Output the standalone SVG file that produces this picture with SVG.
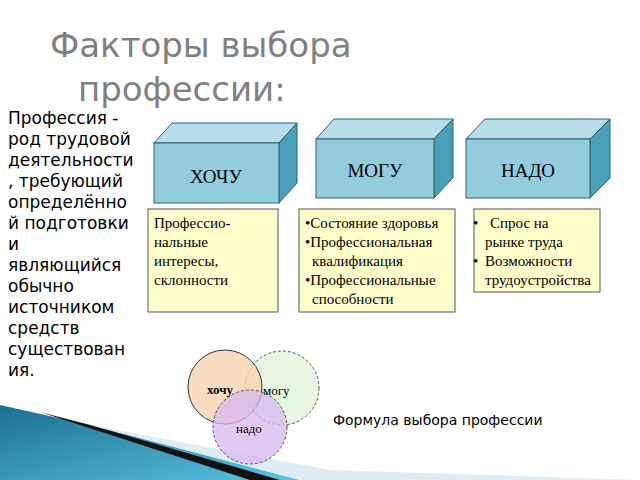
<svg xmlns="http://www.w3.org/2000/svg" width="640" height="480" viewBox="0 0 640 480">
<defs>
<style>
.t{font-family:"DejaVu Sans",sans-serif;fill:#808080;font-size:34px}
.l{font-family:"DejaVu Sans",sans-serif;fill:#000;font-size:17px}
.f{fill:#93cddd;stroke:#2a6070;stroke-width:1}
.tp{fill:#b7dee8;stroke:#2a6070;stroke-width:1}
.sd{fill:#4aa0b8;stroke:#2a6070;stroke-width:1}
.bt{font-family:"Liberation Serif",serif;font-size:19px;fill:#000}
.y{fill:#ffffcc;stroke:#555;stroke-width:1}
.s{font-family:"Liberation Serif",serif;font-size:15px;fill:#000}
.c{stroke:#555;stroke-dasharray:3 2;stroke-width:1}
.ct{font-family:"Liberation Serif",serif;font-size:13px;fill:#000}
.fm{font-family:"DejaVu Sans",sans-serif;fill:#000;font-size:14px}
</style>
<linearGradient id="g" x1="0" y1="0" x2="1" y2="1"><stop offset="0" stop-color="#1a6f8f"/><stop offset="1" stop-color="#5bc3e0"/></linearGradient>
</defs>
<rect width="640" height="480" fill="#fff"/>
<polygon points="0,405 90,425 300,480 0,480" fill="url(#g)"/>
<polygon points="40,412 90,425 280,480 250,480" fill="#111"/>
<polygon points="90,425 330,470 640,480 300,480" fill="#cfe6ee" opacity="0.7"/>
<text class="t" x="50" y="57">Факторы выбора</text>
<text class="t" x="78" y="101">профессии:</text>
<g class="l">
<text x="8" y="124">Профессия -</text>
<text x="8" y="145">род трудовой</text>
<text x="8" y="166">деятельности</text>
<text x="8" y="187">, требующий</text>
<text x="8" y="208">определённо</text>
<text x="8" y="229">й подготовки</text>
<text x="8" y="250">и</text>
<text x="8" y="271">являющийся</text>
<text x="8" y="292">обычно</text>
<text x="8" y="313">источником</text>
<text x="8" y="334">средств</text>
<text x="8" y="355">существован</text>
<text x="8" y="376">ия.</text>
</g>
<g id="hochu">
<polygon class="tp" points="154,143 172,123 297,123 279,143"/>
<polygon class="sd" points="279,143 297,123 297,183 279,203"/>
<rect class="f" x="154" y="143" width="125" height="60"/>
<text class="bt" x="216" y="183" text-anchor="middle">ХОЧУ</text>
</g>
<g id="mogu">
<polygon class="tp" points="316,139 334,119 453,119 434,139"/>
<polygon class="sd" points="434,139 453,119 453,178 434,198"/>
<rect class="f" x="316" y="139" width="118" height="59"/>
<text class="bt" x="375" y="177" text-anchor="middle">МОГУ</text>
</g>
<g id="nado">
<polygon class="tp" points="466,139 485,119 610,119 590,139"/>
<polygon class="sd" points="590,139 610,119 610,178 590,198"/>
<rect class="f" x="466" y="139" width="124" height="59"/>
<text class="bt" x="528" y="177" text-anchor="middle">НАДО</text>
</g>
<g id="box1">
<rect class="y" x="148" y="209" width="130" height="103"/>
<text class="s" x="154" y="228">Профессио-</text>
<text class="s" x="154" y="247">нальные</text>
<text class="s" x="154" y="266">интересы,</text>
<text class="s" x="154" y="285">склонности</text>
</g>
<g id="box2">
<rect class="y" x="299" y="209" width="156" height="103"/>
<text class="s" x="305" y="228">•Состояние здоровья</text>
<text class="s" x="305" y="247">•Профессиональная</text>
<text class="s" x="312" y="266">квалификация</text>
<text class="s" x="305" y="285">•Профессиональные</text>
<text class="s" x="312" y="304">способности</text>
</g>
<g id="box3">
<rect class="y" x="474" y="209" width="126" height="83"/>
<text class="s" x="473" y="228">•</text>
<text class="s" x="490" y="228">Спрос на</text>
<text class="s" x="485" y="247">рынке труда</text>
<text class="s" x="473" y="266">•</text>
<text class="s" x="485" y="266">Возможности</text>
<text class="s" x="485" y="285">трудоустройства</text>
</g>
<g id="venn">
<circle class="c" cx="282" cy="388" r="37" fill="#e2f5dc" fill-opacity="0.85"/>
<circle cx="225" cy="387" r="37" fill="#f9d3b0" fill-opacity="0.8" stroke="#333"/>
<circle class="c" cx="250" cy="427" r="37" fill="#d5b8f0" fill-opacity="0.75"/>
<text class="ct" x="207" y="394" font-weight="bold">хочу</text>
<text class="ct" x="263" y="395" fill="#333">могу</text>
<text class="ct" x="236" y="433">надо</text>
</g>
<text class="fm" x="333" y="425">Формула выбора профессии</text>
</svg>
